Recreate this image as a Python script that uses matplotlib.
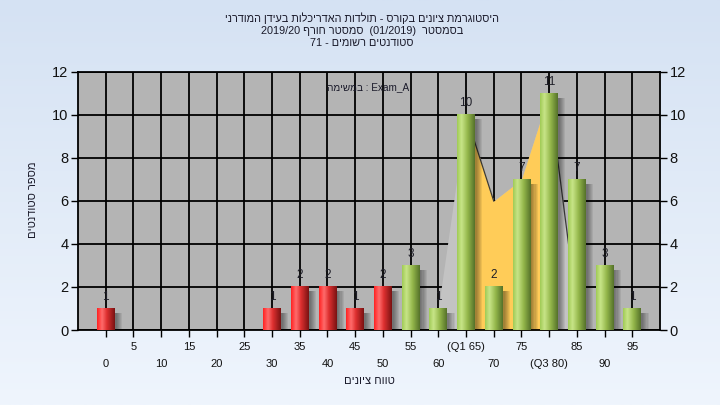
import re
import numpy as np
import matplotlib
matplotlib.use("Agg")
import matplotlib.pyplot as plt
from matplotlib.colors import LinearSegmentedColormap
from matplotlib.patches import Rectangle
from matplotlib.ticker import FixedLocator, FixedFormatter

plt.rcParams['font.family'] = ['Liberation Sans', 'DejaVu Sans']

# ---------------- data ----------------
categories = [0, 5, 10, 15, 20, 25, 30, 35, 40, 45, 50, 55, 60, 65, 70, 75, 80, 85, 90, 95]
counts = [1, 0, 0, 0, 0, 0, 1, 2, 2, 1, 2, 3, 1, 10, 2, 7, 11, 7, 3, 1]
pass_mark = 55
tick_labels = ["0", "5", "10", "15", "20", "25", "30", "35", "40", "45", "50", "55",
               "60", "(Q1 65)", "70", "75", "(Q3 80)", "85", "90", "95"]
area_x = [60, 65, 70, 75, 80, 85]
area_y = [1, 10, 6, 7, 11, 1]
q1, q3 = 65, 80

title_lines = ["היסטוגרמת ציונים בקורס - תולדות האדריכלות בעידן המודרני",
               "בסמסטר  (01/2019)  סמסטר חורף 2019/20",
               "סטודנטים רשומים - 71"]
inner_text = "Exam_A : במשימה"
x_label = "טווח ציונים"
y_label = "מספר סטודנטים"


def vis(s):
    """Convert a logical RTL string into visual (left-to-right) order."""
    r = s[::-1]
    r = re.sub(r"[A-Za-z0-9_/.]+", lambda m: m.group(0)[::-1], r)
    r = r.translate(str.maketrans("()", ")("))
    return r


# ---------------- figure ----------------
W, H = 720, 405
fig = plt.figure(figsize=(W / 100, H / 100), dpi=100)

bg = fig.add_axes([0, 0, 1, 1], zorder=-10)
grad = np.linspace(0, 1, 256)[:, None]
bg_cmap = LinearSegmentedColormap.from_list("bg", ["#D5E2F3", "#EFF5FD"])
bg.imshow(grad, aspect="auto", cmap=bg_cmap, extent=[0, 1, 0, 1], origin="upper")
bg.axis("off")

x0, x1, y0, y1 = 78, 660, 72, 330
ax = fig.add_axes([x0 / W, 1 - y1 / H, (x1 - x0) / W, (y1 - y0) / H])
ax.set_facecolor("#B4B4B4")

# area polygon (frequency polygon with IQR highlighted)
ax.fill_between(area_x, 0, area_y, color="#C3C3C3", lw=0, zorder=1)
ix0, ix1 = area_x.index(q1), area_x.index(q3)
ax.fill_between(area_x[ix0:ix1 + 1], 0, area_y[ix0:ix1 + 1], color="#FFCC58", lw=0, zorder=1.1)
ax.plot(area_x[ix0:ix0 + 2], area_y[ix0:ix0 + 2], color="#3A3A3A", lw=0.9, zorder=1.2)
ax.plot(area_x[ix1:ix1 + 2], area_y[ix1:ix1 + 2], color="#3A3A3A", lw=0.9, zorder=1.2)

red_cm = LinearSegmentedColormap.from_list(
    "red", [(0, "#FF2222"), (0.28, "#FF6C6C"), (0.55, "#DE3030"), (1, "#7A1212")])
green_cm = LinearSegmentedColormap.from_list(
    "green", [(0, "#A0CB56"), (0.25, "#C8E588"), (0.6, "#93B64A"), (1, "#55722A")])

bw = 3.2
strip = np.linspace(0, 1, 64)[None, :]
for c, v in zip(categories, counts):
    if v <= 0:
        continue
    for k in range(6):
        ax.add_patch(Rectangle((c - bw / 2 + 0.35 + 0.2 * k, -0.2), bw, v,
                               color="black", alpha=0.07, lw=0, zorder=2.5))
    cm = red_cm if c < pass_mark else green_cm
    ax.imshow(strip, cmap=cm, aspect="auto", interpolation="bilinear",
              extent=[c - bw / 2, c + bw / 2, 0, v], zorder=3)
    ax.text(c, v + 0.55, str(v), ha="center", va="center", fontsize=8.5,
            color="#1E1E28", zorder=4)

ax.set_xlim(-5, 100)
ax.set_ylim(0, 12)

# grid
ax.set_yticks(range(0, 13, 2))
major = [c for i, c in enumerate(categories) if i % 2 == 0]
minor = [c for i, c in enumerate(categories) if i % 2 == 1]
ax.xaxis.set_major_locator(FixedLocator(major))
ax.xaxis.set_major_formatter(FixedFormatter([tick_labels[i] for i in range(0, 20, 2)]))
ax.xaxis.set_minor_locator(FixedLocator(minor))
ax.xaxis.set_minor_formatter(FixedFormatter([tick_labels[i] for i in range(1, 20, 2)]))
ax.grid(True, which="both", axis="x", color="black", lw=1.3, zorder=0.5)
ax.grid(True, which="major", axis="y", color="black", lw=1.3, zorder=0.5)
ax.set_axisbelow(True)

ax.tick_params(axis="y", which="both", left=True, right=True, labelleft=True,
               labelright=True, length=5, width=1, direction="out",
               labelsize=10.5, labelcolor="#111111", pad=2)
ax.tick_params(axis="x", which="minor", length=5, width=1, direction="out",
               labelsize=8, labelcolor="#111111", pad=4)
ax.tick_params(axis="x", which="major", length=5, width=1, direction="out",
               labelsize=8, labelcolor="#111111", pad=16)
for s in ax.spines.values():
    s.set_color("black")
    s.set_linewidth(1.3)

# texts
ty = [18, 31, 43]
for line, yy in zip(title_lines, ty):
    fig.text(362 / W, 1 - yy / H, vis(line), ha="center", va="center",
             fontsize=7.8, color="#1A1A2A")
fig.text(368 / W, 1 - 87 / H, vis(inner_text), ha="center", va="center",
         fontsize=7.2, color="#1A1A2A")
fig.text(369 / W, 1 - 381 / H, vis(x_label), ha="center", va="center",
         fontsize=8, color="#1A1A2A")
fig.text(33 / W, 1 - 200 / H, vis(y_label), ha="center", va="center",
         rotation=90, fontsize=8, color="#1A1A2A")

fig.savefig("out.png", dpi=100)
